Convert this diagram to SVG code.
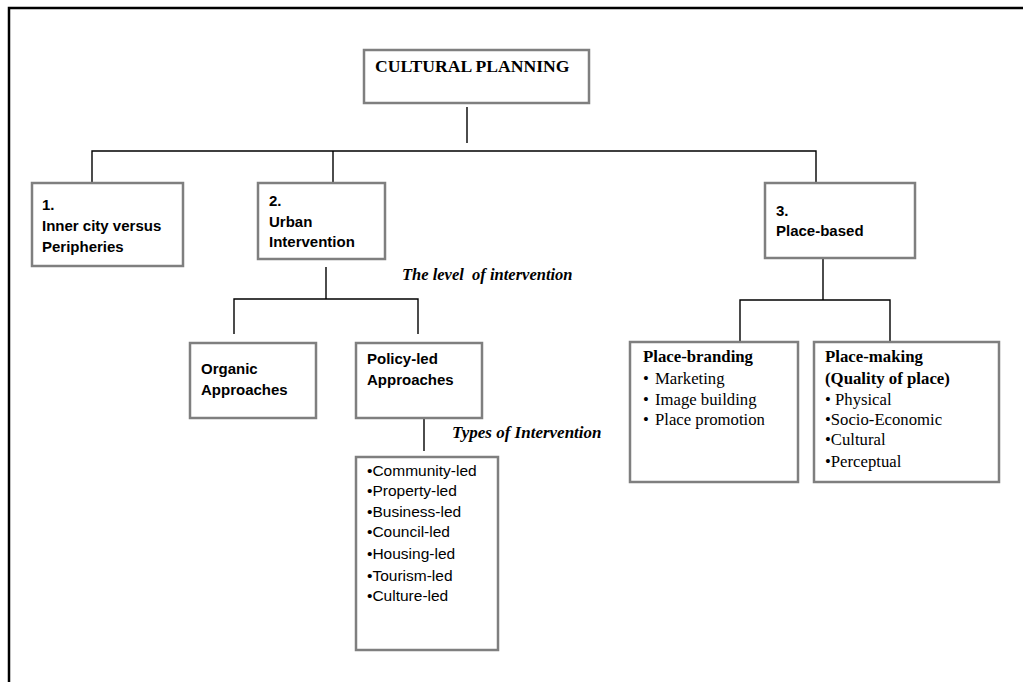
<svg xmlns="http://www.w3.org/2000/svg" width="1023" height="682" viewBox="0 0 1023 682">
<style>
.box{fill:#fff;stroke:#7f7f7f;stroke-width:2.5}
.ln{fill:none;stroke:#000;stroke-width:1.4}
.cal{font-family:"Liberation Sans",Arial,sans-serif;font-size:15.5px;fill:#000}
.calb{font-family:"Liberation Sans",Arial,sans-serif;font-size:15px;font-weight:bold;fill:#000}
.tr{font-family:"Liberation Serif","Times New Roman",serif;font-size:16.7px;fill:#000}
.trb{font-family:"Liberation Serif","Times New Roman",serif;font-size:16.8px;font-weight:bold;fill:#000}
.tri{font-family:"Liberation Serif","Times New Roman",serif;font-size:16.5px;font-style:italic;font-weight:bold;fill:#000}
</style>
<rect width="1023" height="682" fill="#fff"/>
<path d="M9,682 V8 H1023" fill="none" stroke="#000" stroke-width="2.5"/>
<g id="connectors">
<path class="ln" d="M467,107 V143"/>
<path class="ln" d="M92,183 V151 H816 V183"/>
<path class="ln" d="M333,151 V183"/>
<path class="ln" d="M326,267 V299"/>
<path class="ln" d="M234,334 V299 H418 V334"/>
<path class="ln" d="M424,418 V451"/>
<path class="ln" d="M823,258 V300"/>
<path class="ln" d="M740,342 V300 H890 V342"/>
</g>
<g id="root">
<rect class="box" x="364" y="50" width="225" height="53"/>
<text class="trb" x="375" y="72" style="font-size:17.6px">CULTURAL PLANNING</text>
</g>
<g id="n1">
<rect class="box" x="32" y="183" width="151" height="83"/>
<text class="calb" x="42" y="210">1.</text>
<text class="calb" x="42" y="231">Inner city versus</text>
<text class="calb" x="42" y="252">Peripheries</text>
</g>
<g id="n2">
<rect class="box" x="258" y="183" width="127" height="76"/>
<text class="calb" x="269" y="206">2.</text>
<text class="calb" x="269" y="227">Urban</text>
<text class="calb" x="269" y="247">Intervention</text>
</g>
<g id="n3">
<rect class="box" x="765" y="183" width="150" height="75"/>
<text class="calb" x="776" y="216">3.</text>
<text class="calb" x="776" y="236">Place-based</text>
</g>
<g id="label-level">
<text class="tri" x="402" y="280" xml:space="preserve">The level  of intervention</text>
</g>
<g id="organic">
<rect class="box" x="190" y="343" width="126" height="75"/>
<text class="calb" x="201" y="374">Organic</text>
<text class="calb" x="201" y="395">Approaches</text>
</g>
<g id="policy">
<rect class="box" x="356" y="343" width="126" height="75"/>
<text class="calb" x="367" y="364">Policy-led</text>
<text class="calb" x="367" y="385">Approaches</text>
</g>
<g id="label-types">
<text class="tri" x="452" y="438" style="font-size:17px">Types of Intervention</text>
</g>
<g id="types">
<rect class="box" x="356" y="457" width="142" height="193"/>
<text class="cal" x="367" y="476">•Community-led</text>
<text class="cal" x="367" y="496">•Property-led</text>
<text class="cal" x="367" y="517">•Business-led</text>
<text class="cal" x="367" y="537">•Council-led</text>
<text class="cal" x="367" y="559">•Housing-led</text>
<text class="cal" x="367" y="581">•Tourism-led</text>
<text class="cal" x="367" y="601">•Culture-led</text>
</g>
<g id="branding">
<rect class="box" x="630" y="342" width="168" height="140"/>
<text class="trb" x="643" y="362">Place-branding</text>
<text class="tr" x="643" y="384">•</text><text class="tr" x="655" y="384">Marketing</text>
<text class="tr" x="643" y="405">•</text><text class="tr" x="655" y="405">Image building</text>
<text class="tr" x="643" y="425">•</text><text class="tr" x="655" y="425">Place promotion</text>
</g>
<g id="making">
<rect class="box" x="814" y="342" width="185" height="140"/>
<text class="trb" x="825" y="362">Place-making</text>
<text class="trb" x="825" y="384">(Quality of place)</text>
<text class="tr" x="825" y="405">• Physical</text>
<text class="tr" x="825" y="425">•Socio-Economic</text>
<text class="tr" x="825" y="445">•Cultural</text>
<text class="tr" x="825" y="467">•Perceptual</text>
</g>
</svg>
